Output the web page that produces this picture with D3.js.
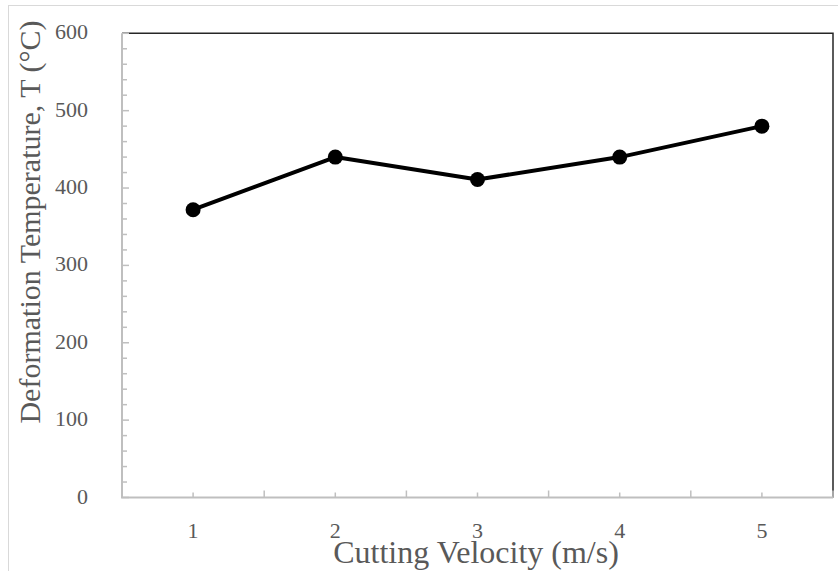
<!DOCTYPE html>
<html>
<head>
<meta charset="utf-8">
<script src="https://cdn.jsdelivr.net/npm/d3@7"></script>
<style>
  body { margin: 0; background: #fff; }
  text { font-family: "Liberation Serif", "Times New Roman", serif; fill: #595959; }
</style>
</head>
<body>
<script>
var width = 838, height = 571;
var plotLeft = 122, plotRight = 833, plotTop = 33.3, plotBottom = 497.5;

// data
var velocities = ["1", "2", "3", "4", "5"];
var temps = [372, 440, 411, 440, 480];
var yTicks = [0, 100, 200, 300, 400, 500, 600];

var svg = d3.select("body").append("svg").attr("width", width).attr("height", height);

// outer chart frame (only top & left visible)
svg.append("rect")
  .attr("x", 8.5).attr("y", 5.5).attr("width", 860).attr("height", 600)
  .style("fill", "none").style("stroke", "#d9d9d9").style("stroke-width", 1);

var x = d3.scaleBand().domain(velocities).range([plotLeft, plotRight]);
var y = d3.scaleLinear().domain([0, 600]).range([plotBottom, plotTop]);

// plot border top & right (dark)
svg.append("path")
  .attr("d", "M" + plotLeft + "," + plotTop + "H" + plotRight + "V" + plotBottom)
  .style("fill", "none").style("stroke", "#262626").style("stroke-width", 1.5);

// y axis, grey, ticks pointing inward, minor every 20
var yAxisG = svg.append("g");
yAxisG.append("line").attr("x1", plotLeft).attr("x2", plotLeft).attr("y1", plotTop).attr("y2", plotBottom)
  .style("stroke", "#bfbfbf").style("stroke-width", 2);
yAxisG.selectAll(".ytick").data(d3.range(0, 601, 20)).enter().append("line")
  .attr("x1", plotLeft).attr("x2", function(d) { return d % 100 === 0 ? plotLeft + 7 : plotLeft + 5; })
  .attr("y1", function(d) { return y(d); }).attr("y2", function(d) { return y(d); })
  .style("stroke", "#bfbfbf").style("stroke-width", 1.5);
yAxisG.selectAll(".ylab").data(yTicks).enter().append("text")
  .attr("x", 88).attr("y", function(d) { return y(d) + 6; })
  .attr("text-anchor", "end").style("font-size", "22px")
  .text(function(d) { return d; });

// x axis, grey
var xAxisG = svg.append("g");
xAxisG.append("line").attr("x1", plotLeft - 1).attr("x2", plotRight).attr("y1", plotBottom).attr("y2", plotBottom)
  .style("stroke", "#bfbfbf").style("stroke-width", 2);
// major ticks at band edges
var edges = velocities.map(function(d) { return x(d); }).concat([plotRight]);
xAxisG.selectAll(".xmaj").data(edges.slice(1)).enter().append("line")
  .attr("x1", function(d) { return d; }).attr("x2", function(d) { return d; })
  .attr("y1", plotBottom).attr("y2", plotBottom - 7)
  .style("stroke", "#bfbfbf").style("stroke-width", 1.5);
// minor ticks at centres
xAxisG.selectAll(".xmin").data(velocities).enter().append("line")
  .attr("x1", function(d) { return x(d) + x.bandwidth() / 2; })
  .attr("x2", function(d) { return x(d) + x.bandwidth() / 2; })
  .attr("y1", plotBottom).attr("y2", plotBottom - 5)
  .style("stroke", "#bfbfbf").style("stroke-width", 1.5);
xAxisG.selectAll(".xlab").data(velocities).enter().append("text")
  .attr("x", function(d) { return x(d) + x.bandwidth() / 2; })
  .attr("y", 538).attr("text-anchor", "middle").style("font-size", "22px")
  .text(function(d) { return d; });

// axis titles
svg.append("text")
  .attr("transform", "translate(40,222) rotate(-90)")
  .attr("text-anchor", "middle").style("font-size", "30px")
  .text("Deformation Temperature, T (°C)");
svg.append("text")
  .attr("x", 476).attr("y", 563).attr("text-anchor", "middle").style("font-size", "32px")
  .text("Cutting Velocity (m/s)");

// series
var line = d3.line()
  .x(function(d, i) { return x(velocities[i]) + x.bandwidth() / 2; })
  .y(function(d) { return y(d); });
svg.append("path").datum(temps).attr("d", line)
  .style("fill", "none").style("stroke", "#000").style("stroke-width", 4)
  .style("stroke-linejoin", "round");
svg.selectAll(".pt").data(temps).enter().append("circle")
  .attr("cx", function(d, i) { return x(velocities[i]) + x.bandwidth() / 2; })
  .attr("cy", function(d) { return y(d); })
  .attr("r", 7.5).style("fill", "#000");
</script>
</body>
</html>
